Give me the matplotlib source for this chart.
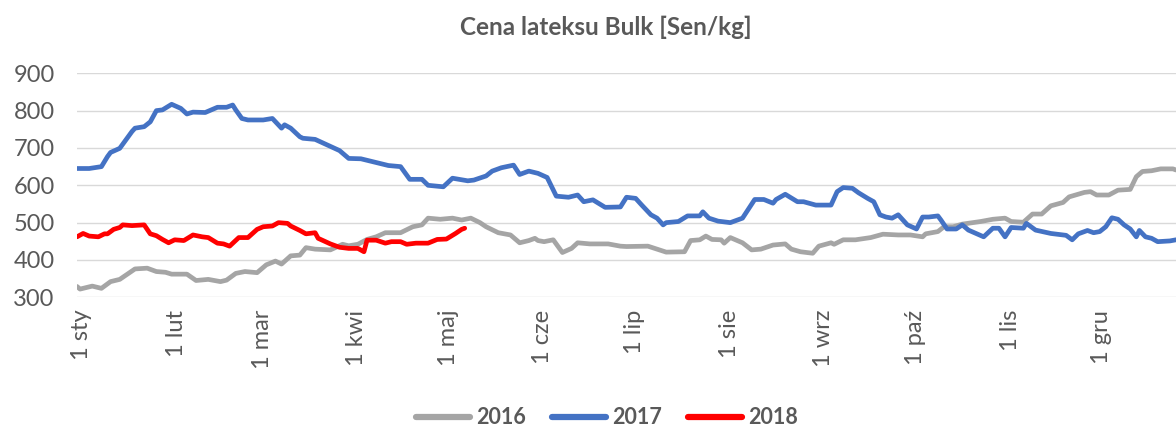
import matplotlib
matplotlib.use("Agg")
import matplotlib.pyplot as plt
import matplotlib.transforms as mtransforms

plt.rcParams['font.family'] = ['Lato', 'DejaVu Sans']

# day of year -> price [Sen/kg]
days_2016 = [0, 1, 5, 8, 11, 14, 19, 23, 26, 29, 31, 36, 39, 43, 47, 49, 52, 55, 59, 62,
             65, 67, 70, 73, 75, 78, 83, 87, 89, 92, 95, 98, 101, 106, 110, 113, 115, 119, 123, 126,
             129, 132, 134, 138, 142, 145, 148, 150, 151, 153, 156, 159, 162, 164, 168, 174, 178, 180, 187, 190,
             193, 199, 201, 204, 206, 208, 211, 212, 214, 218, 221, 224, 228, 232, 234, 237, 241, 243, 247, 248,
             251, 255, 260, 264, 269, 273, 277, 278, 282, 284, 287, 290, 296, 300, 304, 306, 310, 313, 316, 319,
             323, 325, 330, 332, 334, 338, 341, 345, 347, 349, 352, 355, 359, 360]
price_2016 = [329, 322, 330, 324, 342, 348, 376, 378, 369, 367, 362, 362, 345, 348, 342, 346, 364, 369, 366, 387,
              397, 389, 411, 413, 433, 429, 427, 442, 438, 442, 455, 462, 473, 473, 489, 494, 512, 509, 512, 507,
              512, 500, 489, 473, 467, 446, 452, 458, 452, 449, 454, 420, 431, 446, 443, 443, 437, 436, 437, 429,
              421, 422, 452, 454, 464, 455, 454, 445, 460, 446, 427, 429, 440, 443, 429, 422, 418, 437, 446, 442,
              454, 454, 460, 469, 467, 467, 462, 470, 476, 489, 489, 496, 503, 509, 512, 503, 501, 523, 523, 545,
              554, 569, 581, 583, 574, 574, 587, 589, 623, 637, 639, 644, 644, 641]

days_2017 = [0, 4, 8, 10, 11, 14, 18, 19, 22, 24, 26, 28, 30, 31, 34, 36, 38, 42, 46, 49,
             51, 52, 54, 56, 61, 64, 67, 68, 70, 73, 74, 78, 82, 86, 89, 93, 97, 100, 102, 106,
             109, 113, 115, 120, 123, 128, 130, 134, 136, 139, 143, 145, 148, 151, 154, 157, 161, 164, 166, 169,
             173, 178, 180, 183, 185, 188, 190, 192, 193, 197, 200, 204, 205, 207, 210, 214, 218, 222, 225, 228,
             229, 232, 236, 238, 242, 247, 249, 251, 254, 256, 259, 261, 263, 265, 267, 269, 270, 272, 275, 277,
             279, 282, 283, 285, 288, 290, 292, 297, 300, 302, 304, 306, 310, 311, 314, 319, 324, 326, 328, 331,
             333, 335, 337, 339, 341, 343, 345, 347, 348, 350, 352, 354, 358, 360]
price_2017 = [645, 645, 650, 677, 688, 699, 744, 753, 757, 770, 800, 802, 812, 817, 806, 791, 796, 795, 809, 809,
              815, 802, 779, 775, 775, 779, 753, 762, 753, 730, 726, 723, 708, 693, 672, 671, 663, 657, 653, 650,
              616, 616, 600, 596, 619, 612, 614, 625, 638, 647, 654, 629, 638, 632, 621, 571, 568, 574, 556, 561,
              541, 542, 568, 565, 547, 521, 512, 494, 500, 503, 518, 518, 529, 512, 504, 500, 512, 562, 562, 552,
              562, 576, 556, 556, 547, 547, 583, 594, 592, 580, 565, 556, 521, 515, 512, 521, 512, 494, 483, 515,
              515, 518, 507, 483, 483, 494, 480, 462, 485, 485, 462, 487, 485, 498, 480, 471, 466, 454, 470, 479,
              473, 476, 489, 513, 509, 494, 483, 462, 479, 462, 458, 449, 451, 454]

days_2018 = [0, 2, 4, 7, 9, 10, 12, 14, 15, 18, 22, 24, 26, 28, 30, 32, 35, 38, 41, 43,
             46, 48, 50, 53, 56, 59, 61, 64, 66, 69, 70, 73, 75, 78, 79, 83, 86, 89, 92, 94,
             95, 98, 101, 103, 106, 108, 111, 115, 118, 121, 124, 126, 127]
price_2018 = [462, 471, 464, 462, 470, 470, 482, 487, 494, 492, 494, 470, 465, 455, 446, 454, 452, 467, 462, 460,
              445, 443, 437, 460, 460, 482, 489, 491, 500, 498, 491, 479, 470, 473, 458, 443, 434, 431, 431, 422,
              453, 453, 445, 449, 449, 442, 445, 445, 455, 456, 471, 482, 485]

month_days = [0, 31, 59, 90, 120, 151, 181, 212, 243, 273, 304, 334]
month_labels = ['1 sty', '1 lut', '1 mar', '1 kwi', '1 maj', '1 cze',
                '1 lip', '1 sie', '1 wrz', '1 paź', '1 lis', '1 gru']

fig = plt.figure(figsize=(11.76, 4.28), dpi=100)
ax = fig.add_axes([77 / 1176, 1 - 297.3 / 428, 1 - 77 / 1176, (297.3 - 73.3) / 428])

kw = dict(lw=3.4, solid_joinstyle='round', solid_capstyle='round')
ax.plot(days_2016, price_2016, color='#A5A5A5', label='2016', **kw)
ax.plot(days_2017, price_2017, color='#4472C4', label='2017', **kw)
ax.plot(days_2018, price_2018, color='#FF0000', label='2018', **kw)

ax.set_xlim(0, 360)
ax.set_ylim(300, 900)
ax.set_yticks(range(300, 901, 100))
ax.set_xticks(month_days)
ax.set_xticklabels(month_labels, rotation=90)
ax.grid(axis='y', color='#D9D9D9', lw=1)
ax.set_axisbelow(True)
for s in ax.spines.values():
    s.set_visible(False)
ax.tick_params(axis='y', length=0, pad=16, labelsize=17, labelcolor='#595959')
ax.tick_params(axis='x', length=0, pad=9, labelsize=17, labelcolor='#595959')

# nudge month labels a little to the right, as in the original
shift = mtransforms.ScaledTranslation(5 / 100, 0, fig.dpi_scale_trans)
for lab in ax.get_xticklabels():
    lab.set_transform(lab.get_transform() + shift)

fig.text(0.515, 1 - 27 / 428, 'Cena lateksu Bulk [Sen/kg]', ha='center', va='center',
         fontsize=17.5, fontweight='bold', color='#595959')

leg = fig.legend(loc='center', bbox_to_anchor=(0.516, 1 - 418 / 428), ncol=3, frameon=False,
                 prop={'weight': 'bold', 'size': 15.5}, handlelength=2.5, columnspacing=1.2,
                 handletextpad=0.3)
for t in leg.get_texts():
    t.set_color('#595959')
for h in leg.get_lines():
    h.set_linewidth(4.5)

fig.savefig('out.png', dpi=100)
